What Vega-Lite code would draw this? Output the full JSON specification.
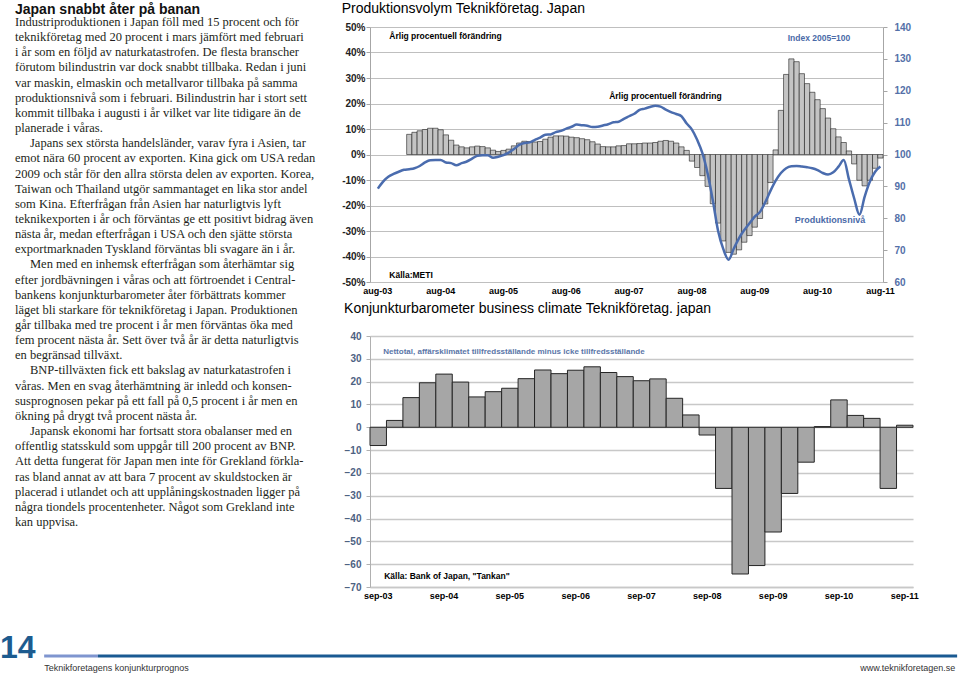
{
"$schema": "https://vega.github.io/schema/vega-lite/v6.json",
"padding": {"top": 2, "left": 0, "right": 0, "bottom": 0},
"background": "white",
"bounds": "flush",
"spacing": 606,
"config": {"view": {"stroke": null}, "font": "Liberation Sans", "axis": {"labelFont": "Liberation Sans"}, "title": {"font": "Liberation Sans"}, "text": {"font": "Liberation Sans"}},
"datasets": {
"prod": [
{"m":"2003-08","idx":89.3},{"m":"2003-09","idx":91.5},{"m":"2003-10","idx":93.0},{"m":"2003-11","idx":93.9},{"m":"2003-12","idx":94.6},
{"m":"2004-01","idx":95.2},{"m":"2004-02","chg":7.9,"idx":95.4},{"m":"2004-03","chg":8.7,"idx":95.7},{"m":"2004-04","chg":9.3,"idx":96.4},{"m":"2004-05","chg":9.8,"idx":97.5},{"m":"2004-06","chg":10.3,"idx":98.2},{"m":"2004-07","chg":10.3,"idx":98.3},{"m":"2004-08","chg":9.7,"idx":98.3},{"m":"2004-09","chg":7.7,"idx":97.5},{"m":"2004-10","chg":5.6,"idx":97.3},{"m":"2004-11","chg":3.7,"idx":96.6},{"m":"2004-12","chg":3.0,"idx":97.3},
{"m":"2005-01","chg":2.6,"idx":97.8},{"m":"2005-02","chg":3.0,"idx":98.7},{"m":"2005-03","chg":3.3,"idx":99.6},{"m":"2005-04","chg":3.1,"idx":99.8},{"m":"2005-05","chg":2.6,"idx":99.8},{"m":"2005-06","chg":1.7,"idx":99.0},{"m":"2005-07","chg":1.2,"idx":99.3},{"m":"2005-08","chg":1.6,"idx":99.8},{"m":"2005-09","chg":2.1,"idx":100.6},{"m":"2005-10","chg":3.4,"idx":101.7},{"m":"2005-11","chg":4.5,"idx":103.0},{"m":"2005-12","chg":5.2,"idx":103.6},
{"m":"2006-01","chg":5.1,"idx":103.8},{"m":"2006-02","chg":4.9,"idx":104.6},{"m":"2006-03","chg":5.1,"idx":105.3},{"m":"2006-04","chg":6.0,"idx":106.2},{"m":"2006-05","chg":6.8,"idx":106.3},{"m":"2006-06","chg":7.3,"idx":107.0},{"m":"2006-07","chg":7.3,"idx":107.4},{"m":"2006-08","chg":7.2,"idx":108.1},{"m":"2006-09","chg":6.8,"idx":108.7},{"m":"2006-10","chg":6.6,"idx":109.4},{"m":"2006-11","chg":6.2,"idx":109.2},{"m":"2006-12","chg":5.8,"idx":109.0},
{"m":"2007-01","chg":5.0,"idx":108.6},{"m":"2007-02","chg":4.1,"idx":108.7},{"m":"2007-03","chg":3.1,"idx":109.1},{"m":"2007-04","chg":3.0,"idx":109.5},{"m":"2007-05","chg":3.0,"idx":110.1},{"m":"2007-06","chg":3.4,"idx":110.3},{"m":"2007-07","chg":3.5,"idx":111.2},{"m":"2007-08","chg":4.2,"idx":112.0},{"m":"2007-09","chg":4.2,"idx":112.8},{"m":"2007-10","chg":4.3,"idx":114.0},{"m":"2007-11","chg":4.5,"idx":114.4},{"m":"2007-12","chg":4.5,"idx":114.9},
{"m":"2008-01","chg":4.7,"idx":115.3},{"m":"2008-02","chg":5.2,"idx":115.0},{"m":"2008-03","chg":5.5,"idx":114.1},{"m":"2008-04","chg":5.2,"idx":113.3},{"m":"2008-05","chg":4.5,"idx":112.7},{"m":"2008-06","chg":3.0,"idx":112.0},{"m":"2008-07","chg":1.6,"idx":109.7},{"m":"2008-08","chg":-2.6,"idx":107.8},{"m":"2008-09","chg":-5.1,"idx":104.6},{"m":"2008-10","chg":-8.3,"idx":100.4},{"m":"2008-11","chg":-12.5,"idx":94.0},{"m":"2008-12","chg":-19.3,"idx":85.5},
{"m":"2009-01","chg":-26.9,"idx":76.0},{"m":"2009-02","chg":-33.9,"idx":70.3},{"m":"2009-03","chg":-38.4,"idx":67.0},{"m":"2009-04","chg":-39.1,"idx":70.5},{"m":"2009-05","chg":-37.4,"idx":73.8},{"m":"2009-06","chg":-34.4,"idx":76.3},{"m":"2009-07","chg":-31.8,"idx":78.4},{"m":"2009-08","chg":-28.5,"idx":80.5},{"m":"2009-09","chg":-25.1,"idx":82.0},{"m":"2009-10","chg":-19.4,"idx":85.0},{"m":"2009-11","chg":-11.0,"idx":88.6},{"m":"2009-12","chg":1.8,"idx":91.8},
{"m":"2010-01","chg":17.3,"idx":94.2},{"m":"2010-02","chg":31.4,"idx":95.7},{"m":"2010-03","chg":37.5,"idx":96.3},{"m":"2010-04","chg":36.4,"idx":96.4},{"m":"2010-05","chg":31.7,"idx":96.2},{"m":"2010-06","chg":27.8,"idx":96.0},{"m":"2010-07","chg":24.4,"idx":95.7},{"m":"2010-08","chg":21.5,"idx":95.1},{"m":"2010-09","chg":18.0,"idx":94.2},{"m":"2010-10","chg":14.3,"idx":93.7},{"m":"2010-11","chg":10.1,"idx":94.4},{"m":"2010-12","chg":6.9,"idx":96.2},
{"m":"2011-01","chg":4.7,"idx":98.3},{"m":"2011-02","chg":1.4,"idx":92.2},{"m":"2011-03","chg":-3.7,"idx":86.2},{"m":"2011-04","chg":-10.1,"idx":81.1},{"m":"2011-05","chg":-12.3,"idx":86.8},{"m":"2011-06","chg":-10.1,"idx":91.5},{"m":"2011-07","chg":-5.4,"idx":94.6},{"m":"2011-08","chg":-1.4,"idx":96.2}
],
"tankan": [
{"q":"2003-09","v":-8},{"q":"2003-12","v":3},{"q":"2004-03","v":13},{"q":"2004-06","v":19.5},{"q":"2004-09","v":23.3},{"q":"2004-12","v":19.8},{"q":"2005-03","v":13.3},{"q":"2005-06","v":15.6},{"q":"2005-09","v":17.1},{"q":"2005-12","v":21.3},{"q":"2006-03","v":25.1},{"q":"2006-06","v":23.5},{"q":"2006-09","v":25},{"q":"2006-12","v":26.5},{"q":"2007-03","v":24},{"q":"2007-06","v":22.2},{"q":"2007-09","v":20.4},{"q":"2007-12","v":21.2},{"q":"2008-03","v":12.7},{"q":"2008-06","v":5.4},{"q":"2008-09","v":-3.4},{"q":"2008-12","v":-26.8},{"q":"2009-03","v":-64.3},{"q":"2009-06","v":-60.6},{"q":"2009-09","v":-45.9},{"q":"2009-12","v":-29},{"q":"2010-03","v":-15.3},{"q":"2010-06","v":0.3},{"q":"2010-09","v":12},{"q":"2010-12","v":5.2},{"q":"2011-03","v":3.9},{"q":"2011-06","v":-26.8},{"q":"2011-09","v":0.9}
],
"text": [
{"line":0,"t":"Japan snabbt åter på banan"},
{"line":1,"t":"Industriproduktionen i Japan föll med 15 procent och för"},
{"line":2,"t":"teknikföretag med 20 procent i mars jämfört med februari"},
{"line":3,"t":"i år som en följd av naturkatastrofen. De flesta branscher"},
{"line":4,"t":"förutom bilindustrin var dock snabbt tillbaka. Redan i juni"},
{"line":5,"t":"var maskin, elmaskin och metallvaror tillbaka på samma"},
{"line":6,"t":"produktionsnivå som i februari. Bilindustrin har i stort sett"},
{"line":7,"t":"kommit tillbaka i augusti i år vilket var lite tidigare än de"},
{"line":8,"t":"planerade i våras."},
{"line":9,"t":"Japans sex största handelsländer, varav fyra i Asien, tar","first":true},
{"line":10,"t":"emot nära 60 procent av exporten. Kina gick om USA redan"},
{"line":11,"t":"2009 och står för den allra största delen av exporten. Korea,"},
{"line":12,"t":"Taiwan och Thailand utgör sammantaget en lika stor andel"},
{"line":13,"t":"som Kina. Efterfrågan från Asien har naturligtvis lyft"},
{"line":14,"t":"teknikexporten i år och förväntas ge ett positivt bidrag även"},
{"line":15,"t":"nästa år, medan efterfrågan i USA och den sjätte största"},
{"line":16,"t":"exportmarknaden Tyskland förväntas bli svagare än i år."},
{"line":17,"t":"Men med en inhemsk efterfrågan som återhämtar sig","first":true},
{"line":18,"t":"efter jordbävningen i våras och att förtroendet i Central-"},
{"line":19,"t":"bankens konjunkturbarometer åter förbättrats kommer"},
{"line":20,"t":"läget bli starkare för teknikföretag i Japan. Produktionen"},
{"line":21,"t":"går tillbaka med tre procent i år men förväntas öka med"},
{"line":22,"t":"fem procent nästa år. Sett över två år är detta naturligtvis"},
{"line":23,"t":"en begränsad tillväxt."},
{"line":24,"t":"BNP-tillväxten fick ett bakslag av naturkatastrofen i","first":true},
{"line":25,"t":"våras. Men en svag återhämtning är inledd och konsen-"},
{"line":26,"t":"susprognosen pekar på ett fall på 0,5 procent i år men en"},
{"line":27,"t":"ökning på drygt två procent nästa år."},
{"line":28,"t":"Japansk ekonomi har fortsatt stora obalanser med en","first":true},
{"line":29,"t":"offentlig statsskuld som uppgår till 200 procent av BNP."},
{"line":30,"t":"Att detta fungerat för Japan men inte för Grekland förkla-"},
{"line":31,"t":"ras bland annat av att bara 7 procent av skuldstocken är"},
{"line":32,"t":"placerad i utlandet och att upplåningskostnaden ligger på"},
{"line":33,"t":"några tiondels procentenheter. Något som Grekland inte"},
{"line":34,"t":"kan uppvisa."}
]
},
"vconcat": [
{"hconcat": [
  {
   "width": 330, "height": 560,
   "data": {"name": "text"},
   "encoding": {
     "x": {"datum": 0, "type": "quantitative", "scale": {"domain": [0, 1], "nice": false, "zero": false}, "axis": null},
     "y": {"field": "line", "type": "quantitative", "scale": {"domain": [1.33, 38.29], "reverse": true, "nice": false, "zero": false}, "axis": null},
     "text": {"field": "t"}
   },
   "layer": [
     {"transform": [{"filter": "datum.line == 0"}], "mark": {"type": "text", "align": "left", "baseline": "middle", "font": "Liberation Sans", "fontWeight": "bold", "fontSize": 14, "dx": 15, "dy": 3, "color": "#111111"}},
     {"transform": [{"filter": "datum.line > 0 && !datum.first"}], "mark": {"type": "text", "align": "left", "baseline": "middle", "font": "Liberation Serif", "fontSize": 12.5, "dx": 15, "color": "#231f20"}},
     {"transform": [{"filter": "datum.first"}], "mark": {"type": "text", "align": "left", "baseline": "middle", "font": "Liberation Serif", "fontSize": 12.5, "dx": 30, "color": "#231f20"}}
   ]
  },
  {"vconcat": [
    {
     "width": 513, "height": 255,
     "title": {"text": "Produktionsvolym Teknikföretag. Japan", "anchor": "start", "fontSize": 14, "fontWeight": "normal", "color": "#000000", "offset": 6},
     "data": {"name": "prod"},
     "layer": [
      {"layer": [
        {"mark": {"type": "bar", "fill": "#c4c4c4", "stroke": "#1e1e1e", "strokeWidth": 0.6},
         "encoding": {
           "x": {"field": "m", "type": "ordinal", "title": null,
                 "scale": {"domain": ["2003-07","2003-08","2003-09","2003-10","2003-11","2003-12","2004-01","2004-02","2004-03","2004-04","2004-05","2004-06","2004-07","2004-08","2004-09","2004-10","2004-11","2004-12","2005-01","2005-02","2005-03","2005-04","2005-05","2005-06","2005-07","2005-08","2005-09","2005-10","2005-11","2005-12","2006-01","2006-02","2006-03","2006-04","2006-05","2006-06","2006-07","2006-08","2006-09","2006-10","2006-11","2006-12","2007-01","2007-02","2007-03","2007-04","2007-05","2007-06","2007-07","2007-08","2007-09","2007-10","2007-11","2007-12","2008-01","2008-02","2008-03","2008-04","2008-05","2008-06","2008-07","2008-08","2008-09","2008-10","2008-11","2008-12","2009-01","2009-02","2009-03","2009-04","2009-05","2009-06","2009-07","2009-08","2009-09","2009-10","2009-11","2009-12","2010-01","2010-02","2010-03","2010-04","2010-05","2010-06","2010-07","2010-08","2010-09","2010-10","2010-11","2010-12","2011-01","2011-02","2011-03","2011-04","2011-05","2011-06","2011-07","2011-08"], "paddingInner": 0, "paddingOuter": 0},
                 "axis": {"values": ["2003-08","2004-08","2005-08","2006-08","2007-08","2008-08","2009-08","2010-08","2011-08"], "labelExpr": "'aug-' + slice(datum.value, 2, 4)", "labelAngle": 0, "labelFontWeight": "bold", "labelFontSize": 9, "labelColor": "#000000", "ticks": false, "domainColor": "#bfbfbf", "labelPadding": 4, "labelOverlap": false}},
           "y": {"field": "chg", "type": "quantitative", "title": null, "scale": {"domain": [-50, 50], "nice": false, "zero": false},
                 "axis": {"values": [-50,-40,-30,-20,-10,0,10,20,30,40,50], "tickCount": 11, "labelExpr": "datum.value + '%'", "labelOverlap": false, "labelFlush": false, "grid": true, "gridColor": "#bfbfbf", "gridWidth": 1, "domainColor": "#a6a6a6", "tickColor": "#a6a6a6", "tickSize": 4, "labelPadding": 1, "labelFontWeight": "bold", "labelFontSize": 10, "labelColor": "#222222"}}
         }},
        {"data": {"values": [{"t": "Årlig procentuell förändring"}]}, "mark": {"type": "text", "align": "left", "baseline": "middle", "fontWeight": "bold", "fontSize": 8.5, "dx": 1, "color": "#000000"},
         "encoding": {"x": {"datum": "2003-10", "type": "ordinal", "title": null}, "y": {"datum": 46.5, "type": "quantitative", "title": null}, "text": {"field": "t"}}},
        {"data": {"values": [{"t": "Årlig procentuell förändring"}]}, "mark": {"type": "text", "align": "left", "baseline": "middle", "fontWeight": "bold", "fontSize": 8.5, "dx": 1, "color": "#000000"},
         "encoding": {"x": {"datum": "2007-04", "type": "ordinal", "title": null}, "y": {"datum": 23.1, "type": "quantitative", "title": null}, "text": {"field": "t"}}},
        {"data": {"values": [{"t": "Källa:METI"}]}, "mark": {"type": "text", "align": "left", "baseline": "middle", "fontWeight": "bold", "fontSize": 8.5, "dx": 1, "color": "#000000"},
         "encoding": {"x": {"datum": "2003-10", "type": "ordinal", "title": null}, "y": {"datum": -47.4, "type": "quantitative", "title": null}, "text": {"field": "t"}}}
      ]},
      {"layer": [
        {"mark": {"type": "line", "color": "#4a6cae", "strokeWidth": 2.5, "interpolate": "monotone"},
         "encoding": {
           "x": {"field": "m", "type": "ordinal", "title": null},
           "y": {"field": "idx", "type": "quantitative", "title": null, "scale": {"domain": [60, 140], "nice": false, "zero": false},
                 "axis": {"orient": "right", "values": [60,70,80,90,100,110,120,130,140], "tickCount": 9, "labelOverlap": false, "labelFlush": false, "grid": false, "domainColor": "#a6a6a6", "tickColor": "#a6a6a6", "tickSize": 4, "labelPadding": 7, "labelFontWeight": "bold", "labelFontSize": 10, "labelColor": "#5470a8"}}
         }},
        {"data": {"values": [{"t": "Index 2005=100"}]}, "mark": {"type": "text", "align": "left", "baseline": "middle", "fontWeight": "bold", "fontSize": 8.5, "dx": 1.5, "color": "#4a6aa8"},
         "encoding": {"x": {"datum": "2010-02", "type": "ordinal", "title": null}, "y": {"datum": 136.6, "type": "quantitative", "title": null}, "text": {"field": "t"}}},
        {"data": {"values": [{"t": "Produktionsnivå"}]}, "mark": {"type": "text", "align": "left", "baseline": "middle", "fontWeight": "bold", "fontSize": 9, "dx": -2, "color": "#4a6aa8"},
         "encoding": {"x": {"datum": "2010-04", "type": "ordinal", "title": null}, "y": {"datum": 79.5, "type": "quantitative", "title": null}, "text": {"field": "t"}}}
      ]}
     ],
     "resolve": {"scale": {"y": "independent"}, "axis": {"y": "independent"}}
    },
    {
     "width": 543, "height": 251,
     "title": {"text": "Konjunkturbarometer business climate Teknikföretag. japan", "anchor": "start", "fontSize": 14, "fontWeight": "normal", "color": "#000000", "offset": 15},
     "layer": [
       {"data": {"name": "tankan"}, "mark": {"type": "bar", "fill": "#a6a6a6", "stroke": "#262626", "strokeWidth": 1},
        "encoding": {
          "x": {"field": "q", "type": "ordinal", "title": null, "scale": {"paddingInner": 0, "paddingOuter": 0},
                "axis": {"values": ["2003-09","2004-09","2005-09","2006-09","2007-09","2008-09","2009-09","2010-09","2011-09"], "labelExpr": "'sep-' + slice(datum.value, 2, 4)", "labelAngle": 0, "labelFontWeight": "bold", "labelFontSize": 9, "labelColor": "#000000", "ticks": false, "domainColor": "#c8c8c8", "domainWidth": 1.5, "labelPadding": 4, "labelOverlap": false}},
          "y": {"field": "v", "type": "quantitative", "title": null, "scale": {"domain": [-70, 40], "nice": false, "zero": false},
                "axis": {"values": [-70,-60,-50,-40,-30,-20,-10,0,10,20,30,40], "tickCount": 12, "labelOverlap": false, "labelFlush": false, "grid": true, "gridColor": "#c8c8c8", "gridWidth": 1.5, "domainColor": "#b0b0b0", "tickColor": "#b0b0b0", "tickSize": 4, "labelPadding": 5, "labelFontWeight": "bold", "labelFontSize": 10, "labelColor": "#4d6282"}}
        }},
       {"data": {"values": [{"t": "Nettotal, affärsklimatet tillfredsställande minus icke tillfredsställande"}]}, "mark": {"type": "text", "align": "left", "baseline": "middle", "fontWeight": "bold", "fontSize": 8, "dx": 5, "color": "#5a76a8"},
        "encoding": {"x": {"datum": "2003-09", "type": "ordinal", "title": null}, "y": {"datum": 33.2, "type": "quantitative", "title": null}, "text": {"field": "t"}}},
       {"data": {"values": [{"t": "Källa: Bank of Japan, \"Tankan\""}]}, "mark": {"type": "text", "align": "left", "baseline": "middle", "fontWeight": "bold", "fontSize": 8.5, "dx": 6, "color": "#000000"},
        "encoding": {"x": {"datum": "2003-09", "type": "ordinal", "title": null}, "y": {"datum": -65.2, "type": "quantitative", "title": null}, "text": {"field": "t"}}}
     ]
    }
  ], "spacing": 54, "bounds": "flush"}
], "spacing": 40, "bounds": "flush"},
{
 "width": 960, "height": 43,
 "layer": [
   {"data": {"values": [{"t": "14"}]}, "mark": {"type": "text", "align": "left", "baseline": "alphabetic", "fontWeight": "bold", "fontSize": 32, "color": "#1d5b8f"},
    "encoding": {"x": {"datum": 0, "type": "quantitative", "scale": {"domain": [0, 100], "nice": false, "zero": false}, "axis": null},
                 "y": {"datum": 25, "type": "quantitative", "scale": {"domain": [0, 43], "reverse": true, "nice": false, "zero": false}, "axis": null},
                 "text": {"field": "t"}}},
   {"data": {"values": [{"t": "a"}]}, "mark": {"type": "rule", "color": "#7f95cf", "strokeWidth": 3},
    "encoding": {"x": {"datum": 4.6, "type": "quantitative"}, "x2": {"datum": 10.2}, "y": {"datum": 23, "type": "quantitative"}}},
   {"data": {"values": [{"t": "b"}]}, "mark": {"type": "rule", "color": "#1a5a92", "strokeWidth": 3},
    "encoding": {"x": {"datum": 10.2, "type": "quantitative"}, "x2": {"datum": 99.7}, "y": {"datum": 23, "type": "quantitative"}}},
   {"data": {"values": [{"t": "Teknikforetagens konjunkturprognos"}]}, "mark": {"type": "text", "align": "left", "baseline": "middle", "fontSize": 9, "color": "#333333"},
    "encoding": {"x": {"datum": 4.6, "type": "quantitative"}, "y": {"datum": 35, "type": "quantitative"}, "text": {"field": "t"}}},
   {"data": {"values": [{"t": "www.teknikforetagen.se"}]}, "mark": {"type": "text", "align": "right", "baseline": "middle", "fontSize": 9, "color": "#333333"},
    "encoding": {"x": {"datum": 99.5, "type": "quantitative"}, "y": {"datum": 35, "type": "quantitative"}, "text": {"field": "t"}}}
 ]
}
]
}
